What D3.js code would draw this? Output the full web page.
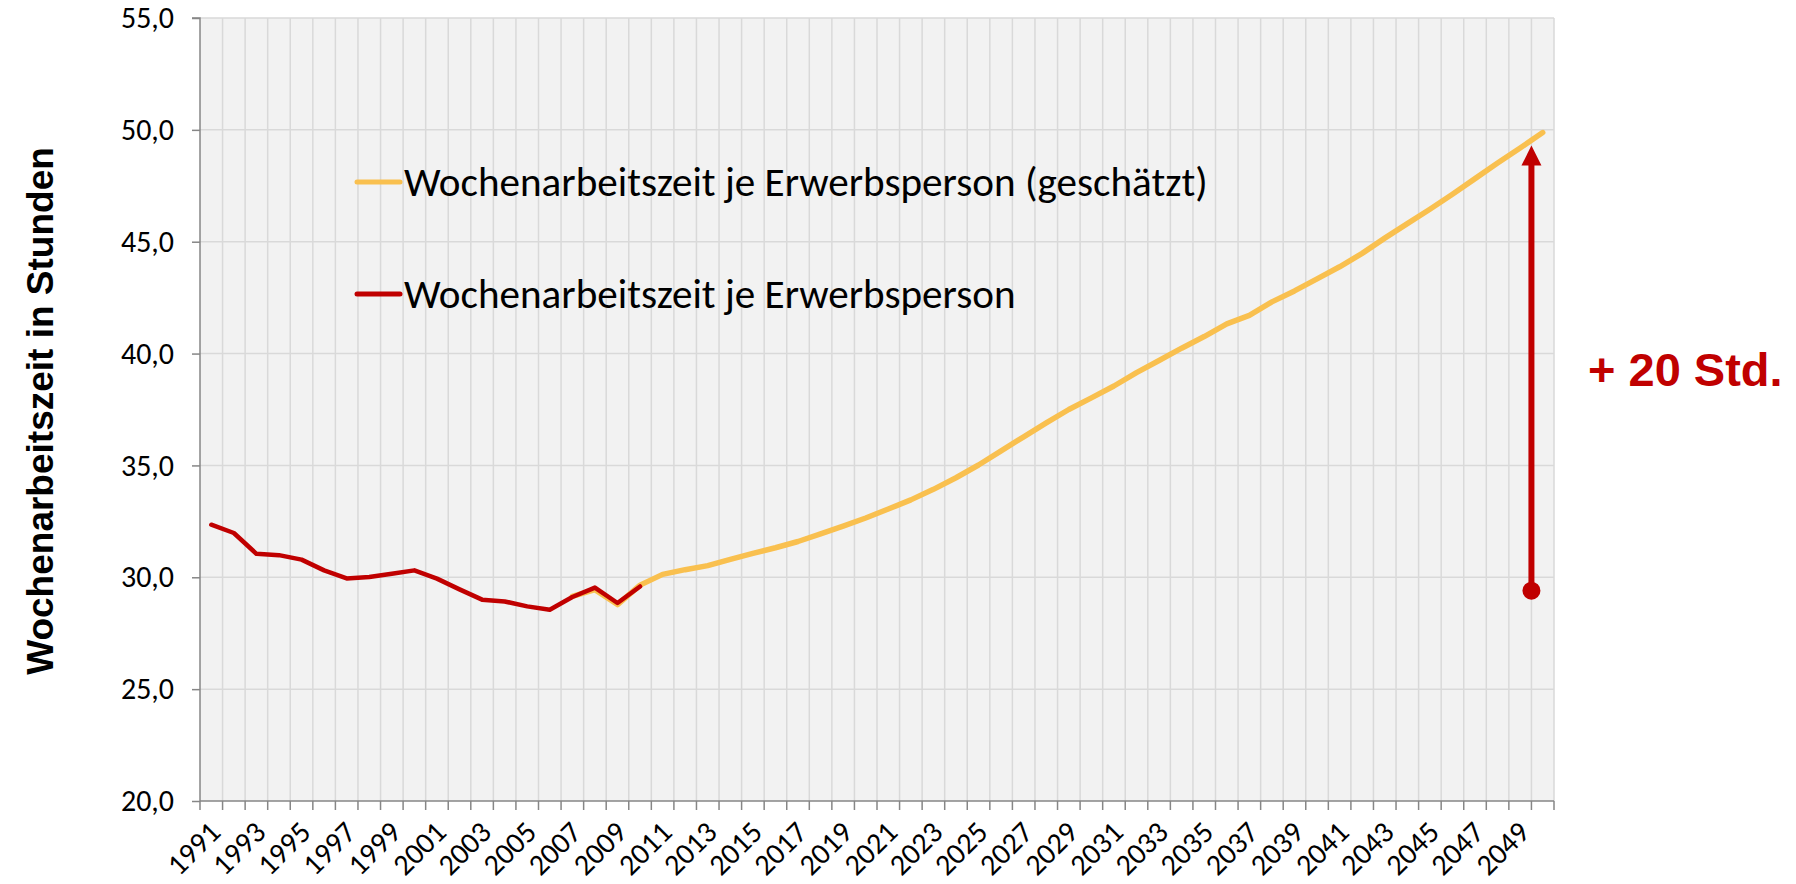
<!DOCTYPE html>
<html>
<head>
<meta charset="utf-8">
<script src="https://cdn.jsdelivr.net/npm/d3@7/dist/d3.min.js"></script>
<style>
  body { margin: 0; background: #fff; }
  .lab { font-family: Calibri, Carlito, Lato, sans-serif; fill: #000; }
</style>
</head>
<body>
<svg width="1796" height="884"></svg>
<script>
// categories
const years = d3.range(1991, 2051);
const labelYears = years.filter(y => y % 2 === 1);
const yTicks = [20, 25, 30, 35, 40, 45, 50, 55];

// Wochenarbeitszeit je Erwerbsperson, 1991-2010
const actualYears = d3.range(1991, 2011);
const actual = [32.35, 31.98, 31.05, 30.99, 30.79, 30.31, 29.95, 30.01, 30.16, 30.31,
                29.94, 29.46, 29.00, 28.92, 28.70, 28.55, 29.12, 29.54, 28.85, 29.59];

// geschätzt, 2007-2050
const estYears = d3.range(2007, 2051);
const estimated = [29.15, 29.45, 28.78, 29.65, 30.13, 30.34, 30.52, 30.80, 31.07, 31.32,
                   31.60, 31.94, 32.29, 32.65, 33.05, 33.46, 33.93, 34.45, 35.02, 35.65,
                   36.28, 36.90, 37.50, 38.02, 38.55, 39.15, 39.69, 40.24, 40.76, 41.33,
                   41.71, 42.31, 42.80, 43.34, 43.88, 44.48, 45.16, 45.81, 46.45, 47.12,
                   47.82, 48.52, 49.19, 49.88];

// annotation: arrow from today's level to the 2050 level
const arrowFrom = 29.4, arrowTo = 49.3;

const legendItems = [
  { name: "Wochenarbeitszeit je Erwerbsperson (geschätzt)", color: "#F9C04F" },
  { name: "Wochenarbeitszeit je Erwerbsperson", color: "#C00000" }
];

const svg = d3.select("svg");
const pLeft = 200, pRight = 1554, pTop = 18, pBottom = 801;

// the Excel font (Calibri) is not there, so size the fallback to the same widths
function fitSize(str, target) {
  const t = svg.append("text").attr("class", "lab").attr("font-size", 100).text(str);
  const w = t.node().getComputedTextLength();
  t.remove();
  return 100 * target / w;
}
const tickSize = fitSize("30,0", 53);
const legendSize = fitSize(legendItems[0].name, 804);

const x = d3.scaleBand().domain(years).range([pLeft, pRight]).padding(0);
const y = d3.scaleLinear().domain([20, 55]).range([pBottom, pTop]);
const cx = d => x(d) + x.bandwidth() / 2;

// plot background
svg.append("rect")
  .attr("x", pLeft).attr("y", pTop)
  .attr("width", pRight - pLeft).attr("height", pBottom - pTop)
  .attr("fill", "#F2F2F2");

// grid
const grid = svg.append("g").attr("stroke", "#D9D9D9").attr("stroke-width", 1.5);
grid.selectAll(".vg")
  .data(years.slice(1).concat(["end"]))
  .enter().append("line")
  .attr("x1", d => d === "end" ? pRight : x(d))
  .attr("x2", d => d === "end" ? pRight : x(d))
  .attr("y1", pTop).attr("y2", pBottom);
grid.selectAll(".hg")
  .data(yTicks.slice(1))
  .enter().append("line")
  .attr("x1", pLeft).attr("x2", pRight)
  .attr("y1", d => y(d)).attr("y2", d => y(d));

// y axis
const yAxis = svg.append("g")
  .attr("transform", `translate(${pLeft},0)`)
  .call(d3.axisLeft(y).tickValues(yTicks).tickSize(8).tickPadding(18)
    .tickFormat(d => d3.format(".1f")(d).replace(".", ",")));
yAxis.selectAll("path, line").attr("stroke", "#868686").attr("stroke-width", 1.5);
yAxis.select(".domain").attr("d", `M-8,${pTop}H0V${pBottom}`);
yAxis.selectAll("text").attr("class", "lab").attr("font-size", tickSize).attr("fill", "#000");

// x axis
const xAxis = svg.append("g").attr("transform", `translate(0,${pBottom})`);
xAxis.append("line")
  .attr("x1", pLeft).attr("x2", pRight)
  .attr("stroke", "#868686").attr("stroke-width", 1.5);
xAxis.selectAll(".tk")
  .data(years.concat(["end"]))
  .enter().append("line")
  .attr("x1", d => d === "end" ? pRight : x(d))
  .attr("x2", d => d === "end" ? pRight : x(d))
  .attr("y1", 0).attr("y2", 9)
  .attr("stroke", "#868686").attr("stroke-width", 1.5);
xAxis.selectAll(".xl")
  .data(labelYears)
  .enter().append("text")
  .attr("class", "lab")
  .attr("font-size", tickSize)
  .attr("text-anchor", "end")
  .attr("transform", d => `translate(${cx(d) + 11},33) rotate(-45)`)
  .text(d => d);

// lines
const line = d3.line().x(d => cx(d[0])).y(d => y(d[1]));
svg.append("path")
  .datum(estYears.map((yr, i) => [yr, estimated[i]]))
  .attr("d", line)
  .attr("fill", "none").attr("stroke", legendItems[0].color)
  .attr("stroke-width", 5.5).attr("stroke-linejoin", "round").attr("stroke-linecap", "round");
svg.append("path")
  .datum(actualYears.map((yr, i) => [yr, actual[i]]))
  .attr("d", line)
  .attr("fill", "none").attr("stroke", legendItems[1].color)
  .attr("stroke-width", 4.5).attr("stroke-linejoin", "round").attr("stroke-linecap", "round");

// legend
const legend = svg.append("g");
legendItems.forEach((it, i) => {
  const ly = 182 + i * 112;
  legend.append("line")
    .attr("x1", 357).attr("x2", 400).attr("y1", ly).attr("y2", ly)
    .attr("stroke", it.color).attr("stroke-width", 5).attr("stroke-linecap", "round");
  legend.append("text")
    .attr("class", "lab")
    .attr("x", 404).attr("y", ly)
    .attr("dy", "0.35em")
    .attr("font-size", legendSize)
    .text(it.name);
});

// arrow annotation
const ax = x(2050);
const ann = svg.append("g").attr("fill", "#C00000");
ann.append("line")
  .attr("x1", ax).attr("x2", ax)
  .attr("y1", y(arrowFrom)).attr("y2", y(arrowTo) + 18)
  .attr("stroke", "#C00000").attr("stroke-width", 6);
ann.append("path")
  .attr("d", `M${ax},${y(arrowTo)} L${ax - 10},${y(arrowTo) + 20} L${ax + 10},${y(arrowTo) + 20} Z`);
ann.append("circle")
  .attr("cx", ax).attr("cy", y(arrowFrom)).attr("r", 9);
svg.append("text")
  .attr("x", 1588).attr("y", 386)
  .attr("font-family", "'Liberation Sans', Arial, sans-serif")
  .attr("font-weight", "bold")
  .attr("font-size", 47)
  .attr("fill", "#C00000")
  .text("+ 20 Std.");

// y axis title
svg.append("text")
  .attr("transform", "translate(40,411) rotate(-90)")
  .attr("text-anchor", "middle")
  .attr("dy", "0.35em")
  .attr("font-family", "'Liberation Sans', Arial, sans-serif")
  .attr("font-weight", "bold")
  .attr("font-size", 37)
  .attr("fill", "#000")
  .text("Wochenarbeitszeit in Stunden");
</script>
</body>
</html>
